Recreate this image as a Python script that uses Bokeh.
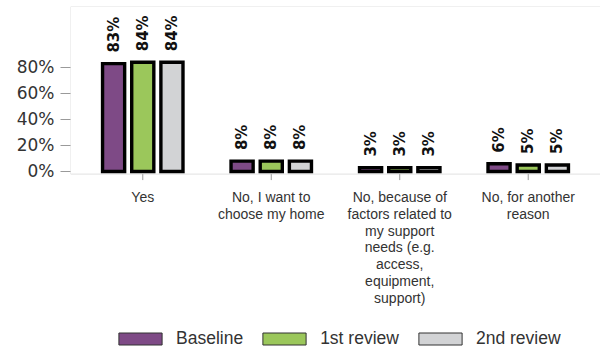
from math import pi
from bokeh.plotting import figure
from bokeh.models import (FactorRange, Range1d, ColumnDataSource, Legend, LegendItem,
                          FixedTicker, PrintfTickFormatter, BoxAnnotation)
from bokeh.transform import dodge
from bokeh.core.properties import value
from bokeh.embed import file_html
from bokeh.resources import INLINE

categories = [
    "Yes",
    "No, I want to\nchoose my home",
    "No, because of\nfactors related to\nmy support\nneeds (e.g.\naccess,\nequipment,\nsupport)",
    "No, for another\nreason",
]
series = ["Baseline", "1st review", "2nd review"]
baseline = [83, 8, 3, 6]
review1 = [84, 8, 3, 5]
review2 = [84, 8, 3, 5]
colors = ["#7E4A86", "#9BC75B", "#D2D3D5"]
y_ticks = [0, 20, 40, 60, 80]

data = {"cat": categories}
cols = ["baseline", "review1", "review2"]
for c, vals in zip(cols, [baseline, review1, review2]):
    data[c] = vals
    data[c + "_lbl"] = [f"{v}%" for v in vals]
source = ColumnDataSource(data)

AXIS_Y = -2          # value where the category axis line sits
GRAY = "#9a9a9a"

p = figure(
    x_range=FactorRange(factors=categories, range_padding=0.03125, range_padding_units="percent"),
    y_range=Range1d(-136.9, 126.9),
    width=600, height=349,
    min_border_left=70, min_border_top=6, min_border_right=0, min_border_bottom=0,
    output_backend="svg", toolbar_location=None,
)
p.xaxis.visible = False
p.outline_line_color = None
p.xgrid.grid_line_color = None
p.ygrid.grid_line_color = None

# plot box (top edge, left edge, bottom axis line)
p.add_layout(BoxAnnotation(bottom=AXIS_Y, fill_alpha=0, line_color=GRAY, line_width=1,
                           level="underlay"))

# category ticks and labels
p.segment(x0="cat", x1="cat", y0=AXIS_Y, y1=AXIS_Y - 4.6, source=source,
          line_color=GRAY, line_width=1)
p.text(x="cat", y=AXIS_Y, text="cat", source=source, y_offset=15,
       text_align="center", text_baseline="top", text_line_height=1.05,
       text_font=value("Liberation Sans"), text_font_size="14px", text_color="#333333")

offsets = [-0.227, 0.0, 0.227]
legend_items = []
for c, off, col, name in zip(cols, offsets, colors, series):
    p.vbar(x=dodge("cat", off, range=p.x_range), top=c, bottom=0, width=0.172,
           source=source, fill_color=col, line_color="black", line_width=3.4,
           line_join="miter")
    p.text(x=dodge("cat", off, range=p.x_range), y=c, text=c + "_lbl", source=source,
           angle=pi / 2, text_align="left", text_baseline="middle", y_offset=-11,
           text_font=value("DejaVu Sans"), text_font_style="bold",
           text_font_size="15px", text_color="#111111")
    proxy = p.vbar(x=dodge("cat", off, range=p.x_range), top=c, bottom=0, width=0.172,
                   source=source, fill_color=col, line_color="#333333", line_width=1,
                   visible=False)
    legend_items.append(LegendItem(label=name, renderers=[proxy]))

legend = Legend(items=legend_items, orientation="horizontal", location=(43, 0),
                glyph_width=54, glyph_height=15, label_height=15, label_standoff=9,
                spacing=14, label_text_font="Liberation Sans",
                label_text_font_size="17.5px", label_text_color="#333333",
                border_line_color=None, background_fill_alpha=0, padding=0, margin=0,
                inactive_fill_alpha=0, click_policy="none")
p.add_layout(legend)

p.yaxis.ticker = FixedTicker(ticks=y_ticks)
p.yaxis.formatter = PrintfTickFormatter(format="%d%%")
p.yaxis.major_label_text_font = "DejaVu Sans"
p.yaxis.major_label_text_font_size = "17px"
p.yaxis.major_label_text_color = "#333333"
p.yaxis.axis_line_color = None
p.yaxis.major_tick_line_color = GRAY
p.yaxis.major_tick_out = 10
p.yaxis.major_tick_in = 0
p.yaxis.minor_tick_line_color = None
p.yaxis.major_label_standoff = 6

open("out.html", "w").write(file_html(p, INLINE))
